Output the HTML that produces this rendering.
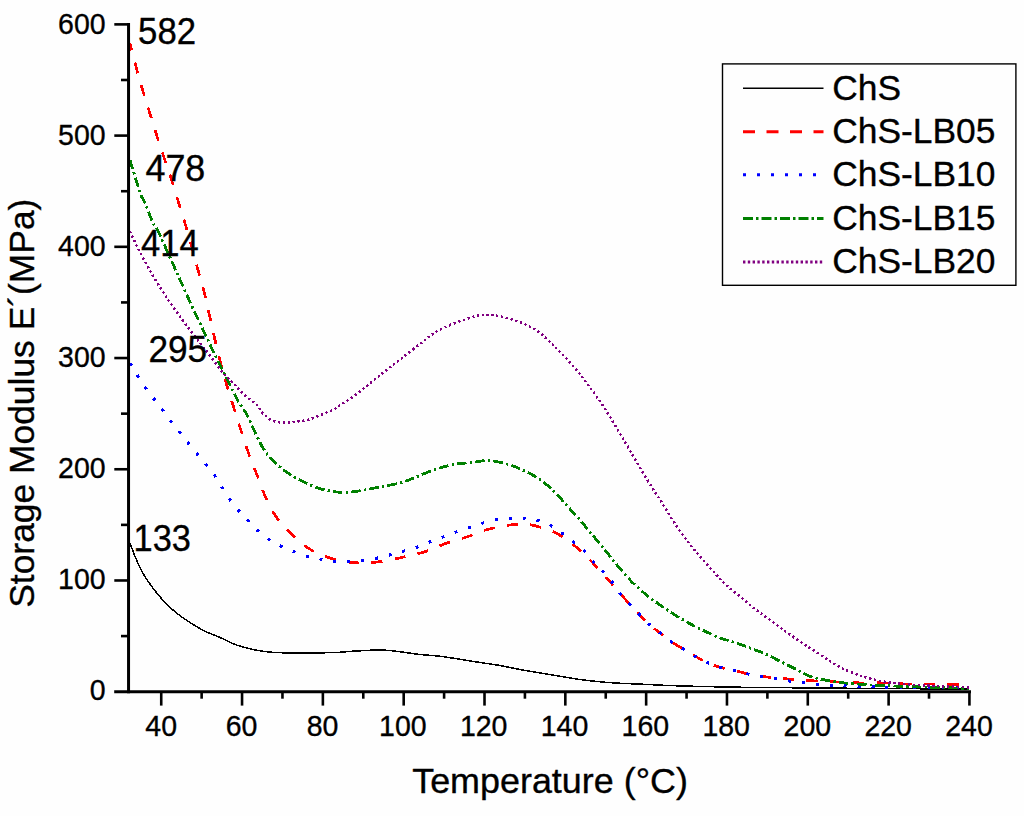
<!DOCTYPE html>
<html><head><meta charset="utf-8"><title>Storage Modulus</title>
<style>
html,body{margin:0;padding:0;background:#fefefe;}
body{width:1024px;height:816px;overflow:hidden;font-family:"Liberation Sans",sans-serif;}
svg{display:block;}
</style></head><body>
<svg width="1024" height="816" viewBox="0 0 1024 816">
<rect x="0" y="0" width="1024" height="816" fill="#fefefe"/>
<g fill="none" stroke-linejoin="round" shape-rendering="crispEdges">
<path d="M130.00 543.00 C130.83 545.21 132.92 551.33 135.00 556.25 C137.08 561.17 139.58 567.29 142.50 572.50 C145.42 577.71 148.75 582.50 152.50 587.50 C156.25 592.50 160.83 598.12 165.00 602.50 C169.17 606.88 173.33 610.42 177.50 613.75 C181.67 617.08 185.42 619.58 190.00 622.50 C194.58 625.42 200.00 628.75 205.00 631.25 C210.00 633.75 215.00 635.29 220.00 637.50 C225.00 639.71 230.00 642.62 235.00 644.50 C240.00 646.38 245.42 647.62 250.00 648.75 C254.58 649.88 258.33 650.62 262.50 651.25 C266.67 651.88 268.75 652.21 275.00 652.50 C281.25 652.79 290.00 653.00 300.00 653.00 C310.00 653.00 326.25 652.79 335.00 652.50 C343.75 652.21 345.00 651.67 352.50 651.25 C360.00 650.83 372.08 649.92 380.00 650.00 C387.92 650.08 393.33 651.00 400.00 651.75 C406.67 652.50 413.33 653.75 420.00 654.50 C426.67 655.25 433.33 655.46 440.00 656.25 C446.67 657.04 453.33 658.21 460.00 659.25 C466.67 660.29 473.33 661.46 480.00 662.50 C486.67 663.54 493.33 664.33 500.00 665.50 C506.67 666.67 513.33 668.25 520.00 669.50 C526.67 670.75 533.33 671.88 540.00 673.00 C546.67 674.12 553.33 675.17 560.00 676.25 C566.67 677.33 573.33 678.58 580.00 679.50 C586.67 680.42 594.17 681.17 600.00 681.75 C605.83 682.33 607.92 682.58 615.00 683.00 C622.08 683.42 632.50 683.79 642.50 684.25 C652.50 684.71 661.25 685.29 675.00 685.75 C688.75 686.21 710.42 686.71 725.00 687.00 C739.58 687.29 746.67 687.33 762.50 687.50 C778.33 687.67 801.42 687.83 820.00 688.00 C838.58 688.17 849.17 688.33 874.00 688.50 C898.83 688.67 953.17 688.92 969.00 689.00" stroke="#000" stroke-width="1.5"/>
<path d="M130.00 43.50 C131.04 47.50 134.08 59.54 136.25 67.50 C138.42 75.46 140.71 83.54 143.00 91.25 C145.29 98.96 147.67 106.25 150.00 113.75 C152.33 121.25 154.58 128.75 157.00 136.25 C159.42 143.75 162.00 151.25 164.50 158.75 C167.00 166.25 169.62 173.88 172.00 181.25 C174.38 188.62 176.50 195.71 178.75 203.00 C181.00 210.29 183.42 218.00 185.50 225.00 C187.58 232.00 189.17 237.50 191.25 245.00 C193.33 252.50 195.79 261.88 198.00 270.00 C200.21 278.12 202.50 285.83 204.50 293.75 C206.50 301.67 208.25 309.79 210.00 317.50 C211.75 325.21 213.25 332.50 215.00 340.00 C216.75 347.50 218.50 354.83 220.50 362.50 C222.50 370.17 224.79 378.50 227.00 386.00 C229.21 393.50 231.38 399.96 233.75 407.50 C236.12 415.04 238.75 423.54 241.25 431.25 C243.75 438.96 246.04 446.25 248.75 453.75 C251.46 461.25 254.58 468.75 257.50 476.25 C260.42 483.75 262.92 491.67 266.25 498.75 C269.58 505.83 273.12 512.71 277.50 518.75 C281.88 524.79 286.88 529.79 292.50 535.00 C298.12 540.21 304.17 545.92 311.25 550.00 C318.33 554.08 326.88 557.33 335.00 559.50 C343.12 561.67 352.08 562.71 360.00 563.00 C367.92 563.29 375.00 562.29 382.50 561.25 C390.00 560.21 397.92 558.33 405.00 556.75 C412.08 555.17 418.33 553.92 425.00 551.75 C431.67 549.58 437.92 546.25 445.00 543.75 C452.08 541.25 460.42 539.12 467.50 536.75 C474.58 534.38 480.42 531.46 487.50 529.50 C494.58 527.54 504.17 525.88 510.00 525.00 C515.83 524.12 518.33 524.12 522.50 524.25 C526.67 524.38 529.58 524.38 535.00 525.75 C540.42 527.12 548.54 529.29 555.00 532.50 C561.46 535.71 567.92 540.42 573.75 545.00 C579.58 549.58 584.58 554.58 590.00 560.00 C595.42 565.42 600.83 571.46 606.25 577.50 C611.67 583.54 617.29 590.42 622.50 596.25 C627.71 602.08 632.92 607.71 637.50 612.50 C642.08 617.29 646.04 621.46 650.00 625.00 C653.96 628.54 657.50 630.83 661.25 633.75 C665.00 636.67 668.54 639.79 672.50 642.50 C676.46 645.21 680.83 647.50 685.00 650.00 C689.17 652.50 693.33 655.21 697.50 657.50 C701.67 659.79 705.83 662.00 710.00 663.75 C714.17 665.50 717.92 666.75 722.50 668.00 C727.08 669.25 732.92 670.17 737.50 671.25 C742.08 672.33 745.42 673.58 750.00 674.50 C754.58 675.42 760.00 676.12 765.00 676.75 C770.00 677.38 775.42 677.83 780.00 678.25 C784.58 678.67 787.92 678.88 792.50 679.25 C797.08 679.62 799.75 680.02 807.50 680.50 C815.25 680.98 830.17 681.70 839.00 682.10 C847.83 682.50 853.00 682.77 860.50 682.90 C868.00 683.03 876.18 682.72 884.00 682.90 C891.82 683.08 899.58 683.82 907.40 684.00 C915.22 684.18 922.76 683.92 930.90 684.00 C939.04 684.08 949.90 684.37 956.25 684.50 C962.60 684.63 966.88 684.75 969.00 684.80" stroke="#f00" stroke-width="2.7" stroke-dasharray="11.2 12.3" stroke-dashoffset="4"/>
<path d="M130.00 363.00 C131.04 364.71 133.96 369.55 136.25 373.25 C138.54 376.95 141.17 381.37 143.75 385.20 C146.33 389.03 149.04 392.74 151.75 396.25 C154.46 399.76 157.29 402.71 160.00 406.25 C162.71 409.79 165.29 413.88 168.00 417.50 C170.71 421.12 173.42 424.38 176.25 428.00 C179.08 431.62 182.00 435.50 185.00 439.25 C188.00 443.00 191.25 446.83 194.25 450.50 C197.25 454.17 199.96 457.58 203.00 461.25 C206.04 464.92 209.67 468.75 212.50 472.50 C215.33 476.25 217.58 479.92 220.00 483.75 C222.42 487.58 224.42 491.62 227.00 495.50 C229.58 499.38 232.50 503.33 235.50 507.00 C238.50 510.67 241.75 514.00 245.00 517.50 C248.25 521.00 251.54 524.67 255.00 528.00 C258.46 531.33 261.79 534.67 265.75 537.50 C269.71 540.33 274.38 542.79 278.75 545.00 C283.12 547.21 287.62 548.96 292.00 550.75 C296.38 552.54 300.54 554.42 305.00 555.75 C309.46 557.08 314.25 557.79 318.75 558.75 C323.25 559.71 327.92 561.12 332.00 561.50 C336.08 561.88 339.00 561.08 343.25 561.00 C347.50 560.92 353.04 561.29 357.50 561.00 C361.96 560.71 365.62 559.96 370.00 559.25 C374.38 558.54 379.58 557.75 383.75 556.75 C387.92 555.75 391.25 554.29 395.00 553.25 C398.75 552.21 402.50 551.54 406.25 550.50 C410.00 549.46 413.88 548.33 417.50 547.00 C421.12 545.67 424.33 543.92 428.00 542.50 C431.67 541.08 435.75 539.92 439.50 538.50 C443.25 537.08 446.79 535.42 450.50 534.00 C454.21 532.58 457.67 531.38 461.75 530.00 C465.83 528.62 470.71 527.12 475.00 525.75 C479.29 524.38 483.42 522.83 487.50 521.75 C491.58 520.67 495.25 519.83 499.50 519.25 C503.75 518.67 508.88 518.42 513.00 518.25 C517.12 518.08 520.17 517.88 524.25 518.25 C528.33 518.62 533.21 519.38 537.50 520.50 C541.79 521.62 546.04 523.00 550.00 525.00 C553.96 527.00 557.50 529.79 561.25 532.50 C565.00 535.21 568.83 538.33 572.50 541.25 C576.17 544.17 579.83 546.67 583.25 550.00 C586.67 553.33 589.88 557.83 593.00 561.25 C596.12 564.67 598.83 567.04 602.00 570.50 C605.17 573.96 608.58 577.71 612.00 582.00 C615.42 586.29 618.25 591.17 622.50 596.25 C626.75 601.33 632.92 607.71 637.50 612.50 C642.08 617.29 646.04 621.46 650.00 625.00 C653.96 628.54 657.50 630.83 661.25 633.75 C665.00 636.67 668.54 639.79 672.50 642.50 C676.46 645.21 680.83 647.50 685.00 650.00 C689.17 652.50 693.33 655.21 697.50 657.50 C701.67 659.79 705.83 662.00 710.00 663.75 C714.17 665.50 717.92 666.75 722.50 668.00 C727.08 669.25 732.92 670.17 737.50 671.25 C742.08 672.33 745.42 673.54 750.00 674.50 C754.58 675.46 760.00 676.17 765.00 677.00 C770.00 677.83 775.42 678.75 780.00 679.50 C784.58 680.25 788.33 680.92 792.50 681.50 C796.67 682.08 800.62 682.54 805.00 683.00 C809.38 683.46 813.96 683.79 818.75 684.25 C823.54 684.71 828.96 685.46 833.75 685.75 C838.54 686.04 839.79 685.79 847.50 686.00 C855.21 686.21 867.92 686.75 880.00 687.00 C892.08 687.25 905.17 687.33 920.00 687.50 C934.83 687.67 960.83 687.92 969.00 688.00" stroke="#00f" stroke-width="3" stroke-dasharray="3 11"/>
<path d="M130.00 160.00 C131.67 165.42 137.50 185.33 140.00 192.50 C142.50 199.67 142.92 198.08 145.00 203.00 C147.08 207.92 150.42 217.50 152.50 222.00 C154.58 226.50 154.58 224.08 157.50 230.00 C160.42 235.92 166.04 248.75 170.00 257.50 C173.96 266.25 177.50 274.17 181.25 282.50 C185.00 290.83 188.75 299.38 192.50 307.50 C196.25 315.62 200.00 323.33 203.75 331.25 C207.50 339.17 211.46 347.71 215.00 355.00 C218.54 362.29 221.98 368.96 225.00 375.00 C228.02 381.04 231.02 387.08 233.10 391.25 C235.18 395.42 235.93 397.29 237.50 400.00 C239.07 402.71 240.83 404.83 242.50 407.50 C244.17 410.17 245.21 411.42 247.50 416.00 C249.79 420.58 253.33 429.12 256.25 435.00 C259.17 440.88 261.67 446.46 265.00 451.25 C268.33 456.04 272.08 459.88 276.25 463.75 C280.42 467.62 285.21 471.38 290.00 474.50 C294.79 477.62 300.00 480.12 305.00 482.50 C310.00 484.88 315.00 487.21 320.00 488.75 C325.00 490.29 330.83 491.12 335.00 491.75 C339.17 492.38 340.83 492.67 345.00 492.50 C349.17 492.33 354.17 491.67 360.00 490.75 C365.83 489.83 373.33 488.29 380.00 487.00 C386.67 485.71 394.17 484.58 400.00 483.00 C405.83 481.42 409.17 479.75 415.00 477.50 C420.83 475.25 428.33 471.71 435.00 469.50 C441.67 467.29 448.75 465.42 455.00 464.25 C461.25 463.08 466.88 463.12 472.50 462.50 C478.12 461.88 482.92 460.21 488.75 460.50 C494.58 460.79 501.88 462.67 507.50 464.25 C513.12 465.83 517.08 467.46 522.50 470.00 C527.92 472.54 534.58 475.75 540.00 479.50 C545.42 483.25 550.42 488.04 555.00 492.50 C559.58 496.96 563.33 501.67 567.50 506.25 C571.67 510.83 575.83 515.21 580.00 520.00 C584.17 524.79 588.33 530.00 592.50 535.00 C596.67 540.00 601.25 545.42 605.00 550.00 C608.75 554.58 610.83 557.50 615.00 562.50 C619.17 567.50 625.00 574.79 630.00 580.00 C635.00 585.21 640.00 589.58 645.00 593.75 C650.00 597.92 655.00 601.46 660.00 605.00 C665.00 608.54 670.00 611.88 675.00 615.00 C680.00 618.12 685.00 621.04 690.00 623.75 C695.00 626.46 700.00 628.88 705.00 631.25 C710.00 633.62 715.00 636.12 720.00 638.00 C725.00 639.88 730.00 640.83 735.00 642.50 C740.00 644.17 745.00 646.12 750.00 648.00 C755.00 649.88 760.00 651.54 765.00 653.75 C770.00 655.96 775.00 658.75 780.00 661.25 C785.00 663.75 790.00 666.25 795.00 668.75 C800.00 671.25 805.00 674.38 810.00 676.25 C815.00 678.12 820.00 678.96 825.00 680.00 C830.00 681.04 835.00 681.88 840.00 682.50 C845.00 683.12 848.67 683.27 855.00 683.75 C861.33 684.23 867.67 684.89 878.00 685.40 C888.33 685.91 901.83 686.30 917.00 686.80 C932.17 687.30 960.33 688.13 969.00 688.40" stroke="#008000" stroke-width="2.8" stroke-dasharray="9.6 3.2 2.3 3.2"/>
<path d="M130.00 231.25 C131.46 234.38 135.00 242.71 138.75 250.00 C142.50 257.29 147.71 266.88 152.50 275.00 C157.29 283.12 162.50 291.25 167.50 298.75 C172.50 306.25 177.92 313.75 182.50 320.00 C187.08 326.25 190.83 330.83 195.00 336.25 C199.17 341.67 203.33 347.04 207.50 352.50 C211.67 357.96 216.88 365.04 220.00 369.00 C223.12 372.96 224.07 373.90 226.25 376.25 C228.43 378.60 230.81 380.71 233.10 383.10 C235.39 385.49 237.60 388.20 240.00 390.60 C242.40 393.00 244.90 395.31 247.50 397.50 C250.10 399.69 253.62 401.98 255.60 403.75 C257.58 405.52 258.46 406.74 259.40 408.10 C260.34 409.46 260.32 410.75 261.25 411.90 C262.18 413.05 263.75 413.86 265.00 415.00 C266.25 416.14 267.29 417.71 268.75 418.75 C270.21 419.79 272.08 420.67 273.75 421.25 C275.42 421.83 276.46 422.00 278.75 422.25 C281.04 422.50 284.38 422.88 287.50 422.75 C290.62 422.62 294.27 421.96 297.50 421.50 C300.73 421.04 303.77 420.77 306.90 420.00 C310.02 419.23 313.23 418.05 316.25 416.90 C319.27 415.75 322.08 414.35 325.00 413.10 C327.92 411.85 331.25 410.72 333.75 409.40 C336.25 408.08 336.46 407.57 340.00 405.20 C343.54 402.83 348.96 399.69 355.00 395.20 C361.04 390.71 370.21 383.07 376.25 378.25 C382.29 373.43 386.04 370.33 391.25 366.25 C396.46 362.17 402.29 357.79 407.50 353.75 C412.71 349.71 417.92 345.54 422.50 342.00 C427.08 338.46 430.42 335.33 435.00 332.50 C439.58 329.67 445.00 327.17 450.00 325.00 C455.00 322.83 460.42 321.04 465.00 319.50 C469.58 317.96 473.75 316.50 477.50 315.75 C481.25 315.00 483.75 314.92 487.50 315.00 C491.25 315.08 495.42 315.33 500.00 316.25 C504.58 317.17 510.42 318.96 515.00 320.50 C519.58 322.04 523.33 323.42 527.50 325.50 C531.67 327.58 535.83 329.83 540.00 333.00 C544.17 336.17 548.33 340.50 552.50 344.50 C556.67 348.50 560.83 352.54 565.00 357.00 C569.17 361.46 573.33 366.17 577.50 371.25 C581.67 376.33 585.83 381.88 590.00 387.50 C594.17 393.12 598.33 398.75 602.50 405.00 C606.67 411.25 610.83 418.12 615.00 425.00 C619.17 431.88 623.33 439.17 627.50 446.25 C631.67 453.33 635.83 460.46 640.00 467.50 C644.17 474.54 648.75 482.46 652.50 488.50 C656.25 494.54 658.75 497.88 662.50 503.75 C666.25 509.62 670.83 517.50 675.00 523.75 C679.17 530.00 683.33 535.79 687.50 541.25 C691.67 546.71 695.83 551.62 700.00 556.50 C704.17 561.38 708.33 565.92 712.50 570.50 C716.67 575.08 720.42 579.67 725.00 584.00 C729.58 588.33 735.00 592.33 740.00 596.50 C745.00 600.67 750.00 605.08 755.00 609.00 C760.00 612.92 765.00 616.33 770.00 620.00 C775.00 623.67 780.00 627.42 785.00 631.00 C790.00 634.58 795.00 638.12 800.00 641.50 C805.00 644.88 810.00 647.96 815.00 651.25 C820.00 654.54 825.42 658.38 830.00 661.25 C834.58 664.12 838.33 666.42 842.50 668.50 C846.67 670.58 851.67 672.40 855.00 673.75 C858.33 675.10 858.67 675.48 862.50 676.60 C866.33 677.73 872.79 679.43 878.00 680.50 C883.21 681.57 888.52 682.33 893.75 683.00 C898.98 683.67 902.24 684.00 909.40 684.50 C916.56 685.00 926.77 685.52 936.70 686.00 C946.63 686.48 963.62 687.17 969.00 687.40" stroke="#800080" stroke-width="2.5" stroke-dasharray="2.2 2.7"/>
</g>
<g stroke="#000" stroke-width="3" fill="none">
<line x1="128.55" y1="23.1" x2="128.55" y2="693.2"/>
<line x1="114.2" y1="691.7" x2="971" y2="691.7"/>
</g>
<g stroke="#000" stroke-width="2.6" fill="none">
<line x1="121" y1="636.09" x2="128.6" y2="636.09"/>
<line x1="114.3" y1="580.48" x2="128.6" y2="580.48"/>
<line x1="121" y1="524.87" x2="128.6" y2="524.87"/>
<line x1="114.3" y1="469.26" x2="128.6" y2="469.26"/>
<line x1="121" y1="413.65" x2="128.6" y2="413.65"/>
<line x1="114.3" y1="358.04" x2="128.6" y2="358.04"/>
<line x1="121" y1="302.43" x2="128.6" y2="302.43"/>
<line x1="114.3" y1="246.82" x2="128.6" y2="246.82"/>
<line x1="121" y1="191.21" x2="128.6" y2="191.21"/>
<line x1="114.3" y1="135.60" x2="128.6" y2="135.60"/>
<line x1="121" y1="79.99" x2="128.6" y2="79.99"/>
<line x1="114.3" y1="24.38" x2="128.6" y2="24.38"/>
<line x1="161.23" y1="691.7" x2="161.23" y2="705.6"/>
<line x1="201.64" y1="691.7" x2="201.64" y2="698.7"/>
<line x1="242.05" y1="691.7" x2="242.05" y2="705.6"/>
<line x1="282.46" y1="691.7" x2="282.46" y2="698.7"/>
<line x1="322.87" y1="691.7" x2="322.87" y2="705.6"/>
<line x1="363.28" y1="691.7" x2="363.28" y2="698.7"/>
<line x1="403.69" y1="691.7" x2="403.69" y2="705.6"/>
<line x1="444.10" y1="691.7" x2="444.10" y2="698.7"/>
<line x1="484.51" y1="691.7" x2="484.51" y2="705.6"/>
<line x1="524.92" y1="691.7" x2="524.92" y2="698.7"/>
<line x1="565.33" y1="691.7" x2="565.33" y2="705.6"/>
<line x1="605.74" y1="691.7" x2="605.74" y2="698.7"/>
<line x1="646.15" y1="691.7" x2="646.15" y2="705.6"/>
<line x1="686.56" y1="691.7" x2="686.56" y2="698.7"/>
<line x1="726.97" y1="691.7" x2="726.97" y2="705.6"/>
<line x1="767.38" y1="691.7" x2="767.38" y2="698.7"/>
<line x1="807.79" y1="691.7" x2="807.79" y2="705.6"/>
<line x1="848.20" y1="691.7" x2="848.20" y2="698.7"/>
<line x1="888.61" y1="691.7" x2="888.61" y2="705.6"/>
<line x1="929.02" y1="691.7" x2="929.02" y2="698.7"/>
<line x1="969.43" y1="691.7" x2="969.43" y2="705.6"/>
</g>
<g font-family="'Liberation Sans', sans-serif" fill="#000" stroke="#000" stroke-width="0.35">
<text transform="translate(89.76,699.93) scale(0.9500,0.9750)" font-size="30px">0</text>
<text transform="translate(58.05,588.86) scale(0.9500,0.9750)" font-size="30px">100</text>
<text transform="translate(58.05,477.79) scale(0.9500,0.9750)" font-size="30px">200</text>
<text transform="translate(58.05,366.72) scale(0.9500,0.9750)" font-size="30px">300</text>
<text transform="translate(58.05,255.65) scale(0.9500,0.9750)" font-size="30px">400</text>
<text transform="translate(58.05,144.58) scale(0.9500,0.9750)" font-size="30px">500</text>
<text transform="translate(58.05,33.51) scale(0.9500,0.9750)" font-size="30px">600</text>
<text transform="translate(145.31,736.43) scale(0.9500,0.9750)" font-size="30px">40</text>
<text transform="translate(225.72,736.43) scale(0.9500,0.9750)" font-size="30px">60</text>
<text transform="translate(306.66,736.43) scale(0.9500,0.9750)" font-size="30px">80</text>
<text transform="translate(379.10,736.43) scale(0.9500,0.9750)" font-size="30px">100</text>
<text transform="translate(459.92,736.43) scale(0.9500,0.9750)" font-size="30px">120</text>
<text transform="translate(540.74,736.43) scale(0.9500,0.9750)" font-size="30px">140</text>
<text transform="translate(621.56,736.43) scale(0.9500,0.9750)" font-size="30px">160</text>
<text transform="translate(702.38,736.43) scale(0.9500,0.9750)" font-size="30px">180</text>
<text transform="translate(783.56,736.43) scale(0.9500,0.9750)" font-size="30px">200</text>
<text transform="translate(864.38,736.43) scale(0.9500,0.9750)" font-size="30px">220</text>
<text transform="translate(945.20,736.43) scale(0.9500,0.9750)" font-size="30px">240</text>
<text transform="translate(138.09,44.10) scale(0.9646,1.0040)" font-size="36px">582</text>
<text transform="translate(145.48,180.90) scale(0.9966,1.0040)" font-size="36px">478</text>
<text transform="translate(141.10,256.35) scale(0.9607,1.0040)" font-size="36px">414</text>
<text transform="translate(148.41,361.70) scale(0.9786,1.0040)" font-size="36px">295</text>
<text transform="translate(133.59,550.80) scale(0.9554,1.0040)" font-size="36px">133</text>
<text transform="translate(412.18,792.70) scale(0.9978,0.9720)" font-size="36px">Temperature (°C)</text>
<text transform="translate(33.90,607.78) rotate(-90) scale(0.9835,0.9920)" font-size="36px">Storage Modulus E´(MPa)</text>
</g>
<rect x="722.5" y="63.9" width="293.4" height="221.4" fill="none" stroke="#000" stroke-width="1.4"/>
<g font-family="'Liberation Sans', sans-serif" fill="#000" stroke="#000" stroke-width="0.35">
<line x1="743" y1="88.30" x2="823.5" y2="88.30" stroke="#000" stroke-width="1.5" fill="none"/>
<text transform="translate(832.20,99.61) scale(0.9830,0.9790)" font-size="36px">ChS</text>
<line x1="743" y1="131.70" x2="823.5" y2="131.70" stroke="#f00" stroke-width="3" stroke-dasharray="12 11.5" fill="none"/>
<text transform="translate(832.20,143.01) scale(0.9830,0.9790)" font-size="36px">ChS-LB05</text>
<line x1="743" y1="174.80" x2="823.5" y2="174.80" stroke="#00f" stroke-width="3" stroke-dasharray="3 11" fill="none"/>
<text transform="translate(832.20,186.41) scale(0.9830,0.9790)" font-size="36px">ChS-LB10</text>
<line x1="743" y1="218.40" x2="823.5" y2="218.40" stroke="#008000" stroke-width="3" stroke-dasharray="10 3 2.5 3" fill="none"/>
<text transform="translate(832.20,229.81) scale(0.9830,0.9790)" font-size="36px">ChS-LB15</text>
<line x1="743" y1="262.00" x2="823.5" y2="262.00" stroke="#800080" stroke-width="3" stroke-dasharray="2.4 2.4" fill="none"/>
<text transform="translate(832.20,273.21) scale(0.9830,0.9790)" font-size="36px">ChS-LB20</text>
</g>
</svg>
</body></html>
